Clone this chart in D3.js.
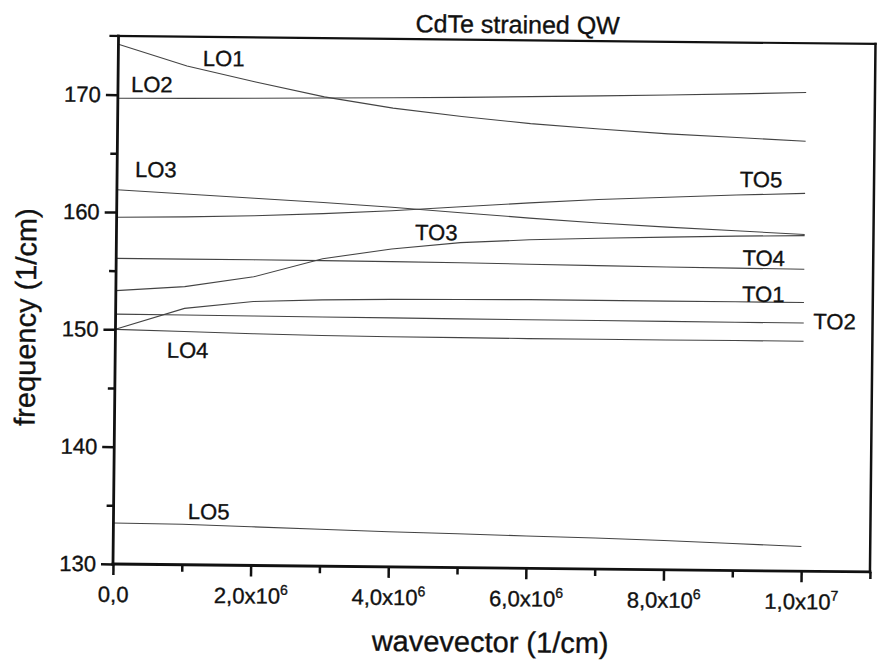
<!DOCTYPE html>
<html><head><meta charset="utf-8">
<script src="https://cdn.jsdelivr.net/npm/d3@7"></script>
<style>
body{margin:0;background:#fff;}
text{font-family:"Liberation Sans",Arial,sans-serif;fill:#111;stroke:#111;stroke-width:0.35px;}
</style>
</head><body>
<svg id="c" width="877" height="660"></svg>
<script>
// wavevector samples (1/cm)
const kValues = [0,1e6,2e6,3e6,4e6,5e6,6e6,7e6,8e6,9e6,1e7];
// frequency branches (1/cm)
const LO1 = [174.3,172.5,171.2,170.0,169.1,168.45,167.9,167.5,167.15,166.9,166.65];
const LO2 = [169.7,169.75,169.82,169.9,169.98,170.08,170.2,170.33,170.47,170.62,170.8];
const LO3 = [161.9,161.6,161.3,161.0,160.65,160.25,159.85,159.5,159.2,158.95,158.7];
const LO4 = [150.0,149.88,149.75,149.66,149.62,149.6,149.58,149.58,149.58,149.6,149.6];
const LO5 = [133.5,133.45,133.3,133.15,133.0,132.88,132.76,132.64,132.5,132.3,132.1];
const TO1 = [150.0,151.85,152.5,152.7,152.8,152.85,152.9,152.9,152.9,152.9,152.9];
const TO2 = [151.3,151.28,151.26,151.24,151.22,151.2,151.19,151.18,151.17,151.16,151.15];
const TO3 = [153.3,153.7,154.6,156.2,157.1,157.7,158.0,158.2,158.35,158.5,158.6];
const TO4 = [156.05,156.05,156.05,156.04,156.02,155.98,155.92,155.86,155.81,155.77,155.74];
const TO5 = [159.55,159.65,159.8,160.05,160.35,160.75,161.15,161.5,161.75,162.0,162.2];
const seriesNames = ["LO1","LO2","LO3","LO4","LO5","TO1","TO2","TO3","TO4","TO5"];
const seriesValues = [LO1,LO2,LO3,LO4,LO5,TO1,TO2,TO3,TO4,TO5];
// label anchors (data units)
const labelK = [1.23e6,0.19e6,0.26e6,0.75e6,1.08e6,9.1e6,10.14e6,4.34e6,9.1e6,9.05e6];
const labelF = [172.53,170.25,163.0,147.63,133.9,152.92,150.65,157.89,155.99,162.69];
// ticks
const xMajor = [0,2e6,4e6,6e6,8e6,1e7];
const xMinor = [1e6,3e6,5e6,7e6,9e6,1.1e7];
const xTickText = ["0,0","2,0x10","4,0x10","6,0x10","8,0x10","1,0x10"];
const xTickExp = ["","6","6","6","6","7"];
const yMajor = [130,140,150,160,170];
const yMinor = [135,145,155,165];

const L=113, T=36, R=870, B=564;
const x = d3.scaleLinear().domain([0,1.1e7]).range([L,R]);
const y = d3.scaleLinear().domain([130,175]).range([B,T]);

const svg = d3.select("#c");
svg.append("rect").attr("width",877).attr("height",660).attr("fill","#fff");
const g = svg.append("g").attr("transform",`rotate(0.6,${L},${B})`);

// data lines
const line = d3.line().x((d,i)=>x(kValues[i])).y(d=>y(d));
g.append("g").selectAll("path").data(seriesValues).join("path")
  .attr("d",line).attr("fill","none").attr("stroke","#444").attr("stroke-width",1.1);

// x axis
const xa = g.append("g").attr("transform",`translate(0,${B})`)
  .call(d3.axisBottom(x).tickValues(xMajor).tickSize(11).tickSizeOuter(0).tickFormat((d,i)=>xTickText[i]));
xa.select(".domain").remove();
xa.selectAll("line").attr("stroke","#111").attr("stroke-width",2.5);
xa.selectAll("text").attr("y",38).attr("dy",0).attr("font-size",22)
  .each(function(d,i){ if(xTickExp[i]) d3.select(this).append("tspan").attr("dy",-9).attr("font-size",14).text(xTickExp[i]); });
const xm = g.append("g").attr("transform",`translate(0,${B})`)
  .call(d3.axisBottom(x).tickValues(xMinor).tickSize(7).tickSizeOuter(0).tickFormat(""));
xm.select(".domain").remove();
xm.selectAll("line").attr("stroke","#111").attr("stroke-width",2.5);

// y axis
const ya = g.append("g").attr("transform",`translate(${L},0)`)
  .call(d3.axisLeft(y).tickValues(yMajor).tickSize(12).tickPadding(5).tickSizeOuter(0));
ya.select(".domain").remove();
ya.selectAll("line").attr("stroke","#111").attr("stroke-width",2.5);
ya.selectAll("text").attr("font-size",22);
const ym = g.append("g").attr("transform",`translate(${L},0)`)
  .call(d3.axisLeft(y).tickValues(yMinor).tickSize(7).tickSizeOuter(0).tickFormat(""));
ym.select(".domain").remove();
ym.selectAll("line").attr("stroke","#111").attr("stroke-width",2.5);

// frame
const fr = g.append("g").attr("stroke","#111").attr("stroke-linecap","square");
fr.append("line").attr("x1",L-8).attr("y1",T).attr("x2",R).attr("y2",T).attr("stroke-width",2.2);
fr.append("line").attr("x1",R).attr("y1",T).attr("x2",R).attr("y2",B).attr("stroke-width",2.5);
fr.append("line").attr("x1",L).attr("y1",T).attr("x2",L).attr("y2",B).attr("stroke-width",2.8);
fr.append("line").attr("x1",L).attr("y1",B).attr("x2",R).attr("y2",B).attr("stroke-width",2.8);

// branch labels
g.append("g").selectAll("text").data(seriesNames).join("text")
  .attr("x",(d,i)=>x(labelK[i])).attr("y",(d,i)=>y(labelF[i]))
  .attr("font-size",22).text(d=>d);

// titles
g.append("text").attr("x",512).attr("y",29).attr("text-anchor","middle").attr("font-size",25).text("CdTe strained QW");
g.append("text").attr("x",491).attr("y",648).attr("text-anchor","middle").attr("font-size",29).text("wavevector (1/cm)");
g.append("text").attr("transform","translate(33,318) rotate(-90)").attr("text-anchor","middle").attr("font-size",29).text("frequency (1/cm)");
</script>
</body></html>
